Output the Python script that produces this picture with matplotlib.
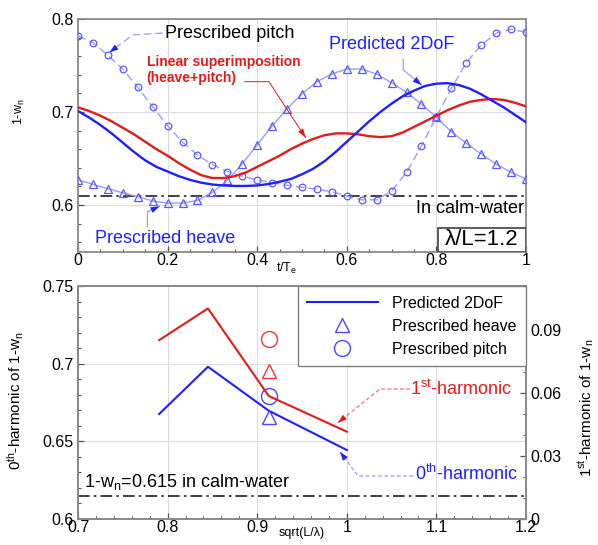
import matplotlib
matplotlib.use("Agg")
import matplotlib.pyplot as plt
import numpy as np
from matplotlib.ticker import MultipleLocator, FuncFormatter
from matplotlib.patches import Rectangle

plt.rcParams['font.family'] = ['Liberation Sans', 'DejaVu Sans']
plt.rcParams['mathtext.fontset'] = 'custom'
plt.rcParams['mathtext.rm'] = 'Liberation Sans'
plt.rcParams['mathtext.it'] = 'Liberation Sans:italic'
plt.rcParams['mathtext.bf'] = 'Liberation Sans:bold'

# ---------------- data: top panel ----------------
t_curve = [i * 0.025 for i in range(41)]
pred_2dof = [0.701, 0.694, 0.686, 0.677, 0.667, 0.657, 0.648, 0.641, 0.636, 0.631,
             0.627, 0.624, 0.622, 0.621, 0.6205, 0.6205, 0.621, 0.6225, 0.625, 0.628,
             0.633, 0.639, 0.647, 0.657, 0.668, 0.679, 0.690, 0.700, 0.709, 0.717,
             0.723, 0.728, 0.7305, 0.731, 0.729, 0.725, 0.719, 0.712, 0.705, 0.697, 0.689]
linear_sup = [0.705, 0.701, 0.696, 0.690, 0.683, 0.676, 0.668, 0.660, 0.653, 0.645,
              0.638, 0.632, 0.629, 0.629, 0.631, 0.635, 0.641, 0.647, 0.653, 0.660,
              0.666, 0.671, 0.675, 0.677, 0.677, 0.676, 0.674, 0.673, 0.674, 0.678,
              0.684, 0.690, 0.696, 0.702, 0.707, 0.711, 0.713, 0.714, 0.713, 0.710, 0.706]
t_presc = [k / 30 for k in range(31)]
presc_pitch = [0.782, 0.7745, 0.761, 0.746, 0.7266, 0.7057, 0.6853, 0.6675, 0.6538, 0.6434,
               0.636, 0.6308, 0.627, 0.624, 0.6212, 0.619, 0.6169, 0.6143, 0.6097, 0.6055,
               0.6055, 0.615, 0.635, 0.6636, 0.695, 0.7254, 0.753, 0.772, 0.7846, 0.789, 0.7857]
presc_heave = [0.627, 0.6222, 0.6175, 0.613, 0.609, 0.6043, 0.602, 0.602, 0.605, 0.6135,
               0.6265, 0.6443, 0.665, 0.685, 0.7035, 0.7195, 0.7326, 0.7409, 0.7462, 0.7462,
               0.7407, 0.7315, 0.7212, 0.7083, 0.6943, 0.6787, 0.6663, 0.6548, 0.644, 0.6351, 0.628]
calm_top = 0.61

# ---------------- data: bottom panel ----------------
sqrt_L_lam = [0.7906, 0.845, 0.9129, 1.0]
h0_pred = [0.6676, 0.698, 0.6697, 0.6444]      # 0th harmonic (left axis)
h1_pred = [0.0852, 0.1003, 0.0586, 0.0416]     # 1st harmonic (right axis)
x_presc = [0.9129]
h0_heave = [0.6659]
h0_pitch = [0.6792]
h1_heave = [0.0706]
h1_pitch = [0.0856]
calm_bot = 0.615

BLUE = '#2020ff'
RED = '#e01c1c'
LIGHT = '#9c9cff'
MEDGE = '#5a5aff'
LRED = '#f07070'
SPINE = '#8a8a8a'

fig = plt.figure(figsize=(5.98, 5.45), dpi=100)
W, H = 598, 545
ax1 = fig.add_axes([78 / W, 1 - 251.5 / H, 448 / W, 232.5 / H])
ax2 = fig.add_axes([78 / W, 1 - 519 / H, 448 / W, 233 / H])

fmt = FuncFormatter(lambda v, p: f'{v:g}')


def style(ax):
    for s in ax.spines.values():
        s.set_color(SPINE)
        s.set_linewidth(1.3)
    ax.tick_params(which='both', direction='in', colors='#505050', labelcolor='black',
                   labelsize=11.5, pad=3)
    ax.tick_params(which='major', length=4, width=0.9)
    ax.tick_params(which='minor', length=2.5, width=0.8)
    ax.tick_params(axis='x', pad=1)


def leader(ax, pts, lcolor, hcolor, ls='-', lw=0.9):
    xs = [p[0] for p in pts]
    ys = [p[1] for p in pts]
    ax.plot(xs, ys, color=lcolor, ls=ls, lw=lw, zorder=6)
    ax.annotate('', xy=pts[-1], xytext=pts[-2],
                arrowprops=dict(arrowstyle='-|>,head_length=0.65,head_width=0.22',
                                color=hcolor, lw=0, shrinkA=0, shrinkB=0,
                                mutation_scale=10), zorder=7)


# ---------------- top panel ----------------
style(ax1)
ax1.set_xlim(0, 1)
ax1.set_ylim(0.55, 0.8)
ax1.xaxis.set_major_locator(MultipleLocator(0.2))
ax1.xaxis.set_minor_locator(MultipleLocator(0.05))
ax1.yaxis.set_major_locator(MultipleLocator(0.1))
ax1.yaxis.set_minor_locator(MultipleLocator(0.02))
ax1.xaxis.set_major_formatter(fmt)
ax1.yaxis.set_major_formatter(fmt)
ax1.grid(True, which='major', color='#dcdcdc', lw=0.8)
ax1.set_axisbelow(True)

ax1.axhline(calm_top, color='#202020', lw=1.2, ls=(0, (7, 2.5, 1.5, 2.5)), zorder=2)
ax1.plot(t_presc, presc_heave, color=LIGHT, lw=1.0, marker='^', ms=5.5,
         mfc='none', mec=MEDGE, mew=0.9, zorder=3)
ax1.plot(t_presc, presc_pitch, color=LIGHT, lw=1.0, ls=(0, (6, 3)), marker='o', ms=4.8,
         mfc='none', mec=MEDGE, mew=0.9, zorder=3)
ax1.plot(t_curve, linear_sup, color=RED, lw=1.7, zorder=4)
ax1.plot(t_curve, pred_2dof, color=BLUE, lw=1.7, zorder=4)

ax1.text(0.194, 0.784, 'Prescribed pitch', fontsize=13, ha='left', va='center', color='black')
ax1.text(0.153, 0.761, 'Linear superimposition\n(heave+pitch)', fontsize=10, fontweight='bold',
         color=RED, ha='left', va='top', linespacing=1.15)
ax1.text(0.561, 0.7731, 'Predicted 2DoF', fontsize=13, ha='left', va='center', color=BLUE)
ax1.text(0.037, 0.5645, 'Prescribed heave', fontsize=13, ha='left', va='center', color=BLUE)
ax1.text(0.995, 0.5957, 'In calm-water', fontsize=13, ha='right', va='center', color='black')

leader(ax1, [(0.189, 0.7849), (0.122, 0.7828), (0.070, 0.7640)], LIGHT, BLUE, ls=(0, (6, 3)))
leader(ax1, [(0.726, 0.7567), (0.726, 0.7452), (0.767, 0.7290)], LIGHT, BLUE)
leader(ax1, [(0.372, 0.7326), (0.426, 0.7326), (0.508, 0.6725)], RED, RED, lw=0.7)
leader(ax1, [(0.155, 0.5767), (0.155, 0.5925), (0.182, 0.5986)], LIGHT, BLUE)

ax1.add_patch(Rectangle((0.804, 0.0), 0.196, 0.101, transform=ax1.transAxes,
                        facecolor='white', edgecolor='#404040', lw=1.2, zorder=8))
ax1.text(0.902, 0.05, 'λ/L=1.2', transform=ax1.transAxes, fontsize=16,
         ha='center', va='center', zorder=9)

fig.text(287 / W, 1 - 268 / H, 't/T$_{\\rm e}$', fontsize=9, ha='center', va='center')
fig.text(19 / W, 1 - 112 / H, '1-w$_{\\rm n}$', fontsize=9, ha='center', va='center',
         rotation=90)

# ---------------- bottom panel ----------------
style(ax2)
ax2.set_xlim(0.7, 1.2)
ax2.set_ylim(0.6, 0.75)
ax2.xaxis.set_major_locator(MultipleLocator(0.1))
ax2.xaxis.set_minor_locator(MultipleLocator(0.02))
ax2.yaxis.set_major_locator(MultipleLocator(0.05))
ax2.yaxis.set_minor_locator(MultipleLocator(0.01))
ax2.xaxis.set_major_formatter(fmt)
ax2.yaxis.set_major_formatter(fmt)
ax2.grid(True, which='major', color='#dcdcdc', lw=0.8)
ax2.set_axisbelow(True)

ax2r = ax2.twinx()
style(ax2r)
ax2r.set_ylim(0, 0.111)
ax2r.yaxis.set_major_locator(MultipleLocator(0.03))
ax2r.yaxis.set_minor_locator(MultipleLocator(0.01))
ax2r.yaxis.set_major_formatter(fmt)

ax2.axhline(calm_bot, color='#202020', lw=1.2, ls=(0, (7, 2.5, 1.5, 2.5)), zorder=2)
l_pred, = ax2.plot(sqrt_L_lam, h0_pred, color=BLUE, lw=1.5, zorder=4, label='Predicted 2DoF')
m_heave, = ax2.plot(x_presc, h0_heave, ls='none', marker='^', ms=10, mfc='none',
                    mec='#4848ff', mew=1.0, zorder=5, label='Prescribed heave')
m_pitch, = ax2.plot(x_presc, h0_pitch, ls='none', marker='o', ms=11.5, mfc='none',
                    mec='#4848ff', mew=1.0, zorder=5, label='Prescribed pitch')
ax2r.plot(sqrt_L_lam, h1_pred, color=RED, lw=1.5, zorder=4)
ax2r.plot(x_presc, h1_heave, ls='none', marker='^', ms=10, mfc='none',
          mec='#ea3a3a', mew=1.0, zorder=5)
ax2r.plot(x_presc, h1_pitch, ls='none', marker='o', ms=11.5, mfc='none',
          mec='#ea3a3a', mew=1.0, zorder=5)

ax2.text(0.7067, 0.6238, '1-w$_{\\rm n}$=0.615 in calm-water', fontsize=13,
         ha='left', va='center')
ax2.text(1.0705, 0.6837, '1$^{\\rm st}$-harmonic', fontsize=13, ha='left', va='center', color=RED)
ax2.text(1.076, 0.6290, '0$^{\\rm th}$-harmonic', fontsize=13, ha='left', va='center', color=BLUE)
leader(ax2, [(1.0705, 0.6837), (1.037, 0.6837), (0.990, 0.6620)], LRED, RED, ls=(0, (3, 2)))
leader(ax2, [(1.074, 0.6277), (1.0125, 0.6277), (0.9924, 0.6433)], LIGHT, BLUE, ls=(0, (3, 2)))

leg = ax2r.legend(handles=[l_pred, m_heave, m_pitch], loc='upper right',
                  bbox_to_anchor=(1.0, 1.0), borderaxespad=0, fontsize=11.5,
                  handlelength=4.4, handletextpad=0.9, labelspacing=0.5,
                  borderpad=0.6, fancybox=False, framealpha=1, edgecolor='#808080')
leg.get_frame().set_linewidth(1.0)
leg.set_zorder(20)

fig.text(302 / W, 1 - 533 / H, 'sqrt(L/λ)', fontsize=9, ha='center', va='center')
fig.text(16 / W, 1 - 401 / H, '0$^{\\rm th}$-harmonic of 1-w$_{\\rm n}$', fontsize=11,
         ha='center', va='center', rotation=90)
fig.text(586 / W, 1 - 408 / H, '1$^{\\rm st}$-harmonic of 1-w$_{\\rm n}$', fontsize=11,
         ha='center', va='center', rotation=90)

fig.savefig('out.png', dpi=100)
